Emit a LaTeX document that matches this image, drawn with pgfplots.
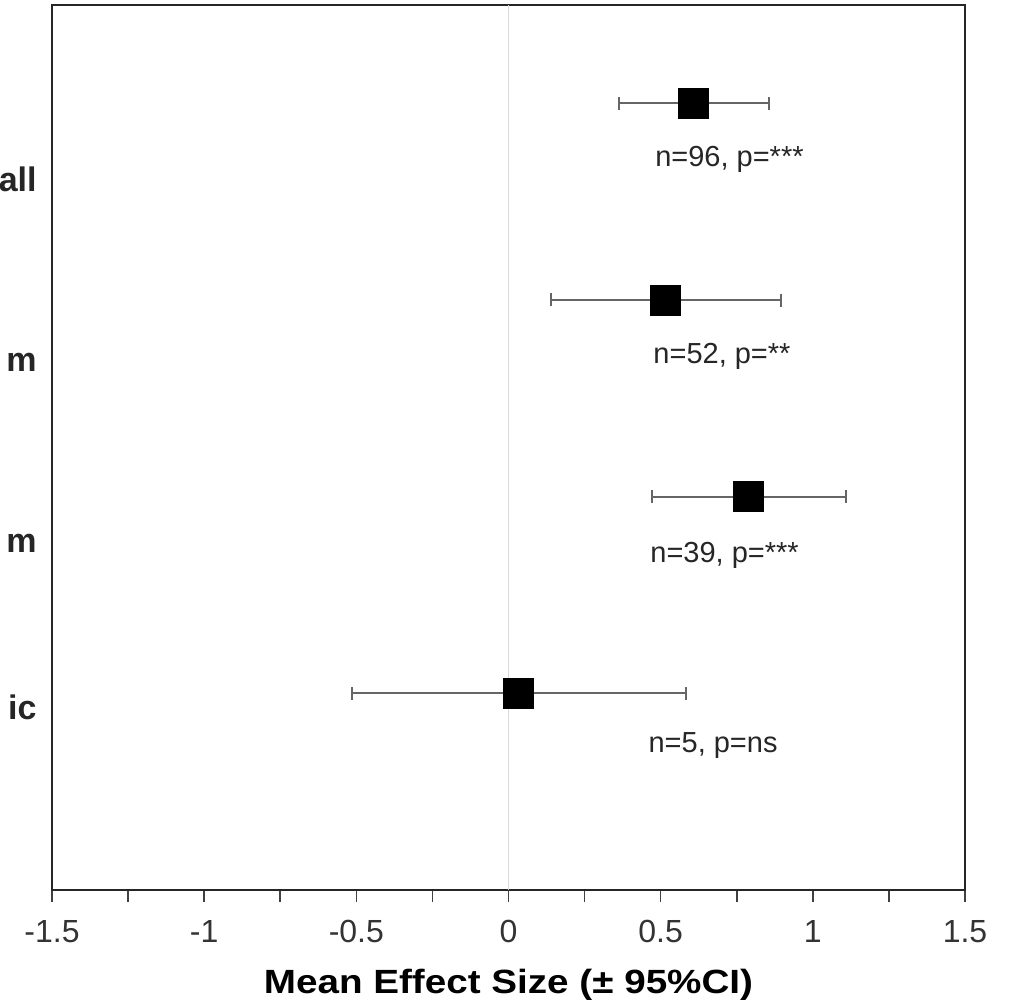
\documentclass[border=0pt]{standalone}
\usepackage{pgfplots}
\pgfplotsset{compat=1.18}
\usepackage{pgfplotstable}
\usepackage{graphicx}
\usepackage{fontspec}
\setmainfont{Liberation Sans}

\pgfplotstableread{
x y em ep
0.608 4 0.245 0.248
0.517 3 0.377 0.378
0.789 2 0.318 0.320
0.031 1 0.546 0.552
}\effects

\begin{document}
\begin{tikzpicture}
\begin{axis}[name=ax, scale only axis, width=456.5pt, height=442.5pt,
  xmin=-1.5, xmax=1.5, ymin=0, ymax=4.5,
  xtick={-1.5,-1,-0.5,0,0.5,1,1.5},
  minor xtick={-1.25,-0.75,-0.25,0.25,0.75,1.25},
  xtick pos=lower, tick align=outside,
  major tick length=6pt, minor tick length=6pt,
  every tick/.style={black!75, line width=0.8pt},
  ytick={3.551,2.637,1.718,0.865}, yticklabels={all,m,m,ic},
  ytick style={draw=none},
  yticklabel style={font=\fontsize{17}{20}\selectfont\bfseries, text=black!85, anchor=base east, inner sep=0pt, xshift=-1.5pt},
  xticklabel style={font=\fontsize{16}{19}\selectfont, text=black!80, anchor=base, inner sep=0pt, yshift=-20pt},
  /pgf/number format/assume math mode=true,
  axis line style={black!85, line width=1.2pt},
  xlabel={\scalebox{1.15}[1]{\bfseries Mean Effect Size (± 95\%CI)}},
  xlabel style={at={(axis description cs:0.5,0)}, anchor=base, yshift=-51.5pt, font=\fontsize{16.8}{20}\selectfont, inner sep=0pt},
  clip=false]
\addplot[black!15, line width=0.6pt] coordinates {(0,0) (0,4.5)};
\addplot[only marks, mark=square*, mark size=7.5pt, black,
  error bars/.cd, x dir=both, x explicit,
  error bar style={black!60, line width=1.1pt},
  error mark options={rotate=90, black!60, mark size=3.25pt, line width=1.1pt}]
  table[x=x, y=y, x error plus=ep, x error minus=em]{\effects};
\node[anchor=west, inner sep=0pt, font=\fontsize{14.5}{17}\selectfont, text=black!85] at (axis cs:0.481,3.715) {n=96, p=***};
\node[anchor=west, inner sep=0pt, font=\fontsize{14.5}{17}\selectfont, text=black!85] at (axis cs:0.475,2.715) {n=52, p=**};
\node[anchor=west, inner sep=0pt, font=\fontsize{14.5}{17}\selectfont, text=black!85] at (axis cs:0.465,1.700) {n=39, p=***};
\node[anchor=west, inner sep=0pt, font=\fontsize{14.5}{17}\selectfont, text=black!85] at (axis cs:0.459,0.736) {n=5, p=ns};
\end{axis}
\pgfresetboundingbox
\path ([shift={(-26pt,2.5pt)}]ax.north west) rectangle ([shift={(23.5pt,-58pt)}]ax.south east);
\end{tikzpicture}
\end{document}
